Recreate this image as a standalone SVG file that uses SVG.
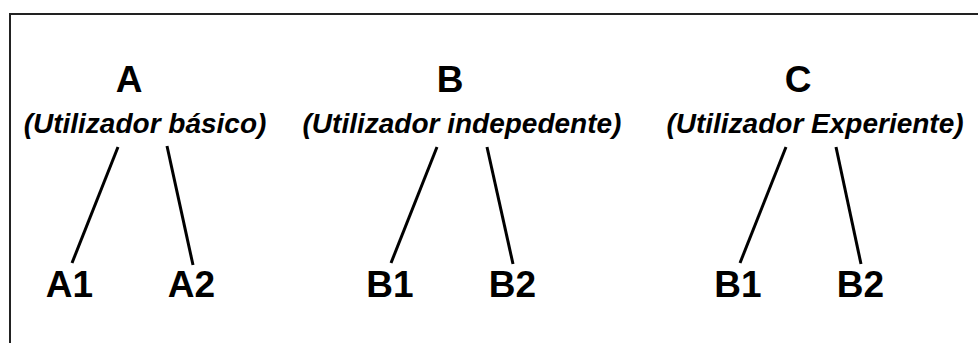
<svg xmlns="http://www.w3.org/2000/svg" width="978" height="343" viewBox="0 0 978 343">
<style>
.t{font-family:"Liberation Sans",Arial,sans-serif;font-weight:bold;fill:#000;text-anchor:middle}
.big{font-size:37px}
.sub{font-size:28px;font-style:italic}
.ln{stroke:#000;stroke-width:3;stroke-linecap:butt;fill:none}
</style>
<rect width="978" height="343" fill="#fff"/>
<path d="M10,343 V14 H978" fill="none" stroke="#222" stroke-width="2"/>
<g id="nodeA"><text class="t big" x="129" y="92">A</text><text class="t sub" x="145" y="133">(Utilizador básico)</text></g>
<g id="nodeB"><text class="t big" x="450" y="92">B</text><text class="t sub" x="462" y="133">(Utilizador indepedente)</text></g>
<g id="nodeC"><text class="t big" x="798" y="92">C</text><text class="t sub" x="815" y="133">(Utilizador Experiente)</text></g>
<g id="nodeA1"><text class="t big" x="69.5" y="297">A1</text></g>
<g id="nodeA2"><text class="t big" x="191.5" y="297">A2</text></g>
<g id="nodeB1"><text class="t big" x="390" y="297">B1</text></g>
<g id="nodeB2"><text class="t big" x="512.5" y="297">B2</text></g>
<g id="nodeCB1"><text class="t big" x="738" y="297">B1</text></g>
<g id="nodeCB2"><text class="t big" x="860.5" y="297">B2</text></g>
<g id="connectors">
<line class="ln" x1="118" y1="147" x2="72" y2="263"/>
<line class="ln" x1="167" y1="146" x2="193" y2="265"/>
<line class="ln" x1="437" y1="147" x2="391" y2="263"/>
<line class="ln" x1="487" y1="147" x2="513" y2="264"/>
<line class="ln" x1="786" y1="147" x2="740" y2="263"/>
<line class="ln" x1="836" y1="147" x2="861" y2="264"/>
</g>
</svg>
